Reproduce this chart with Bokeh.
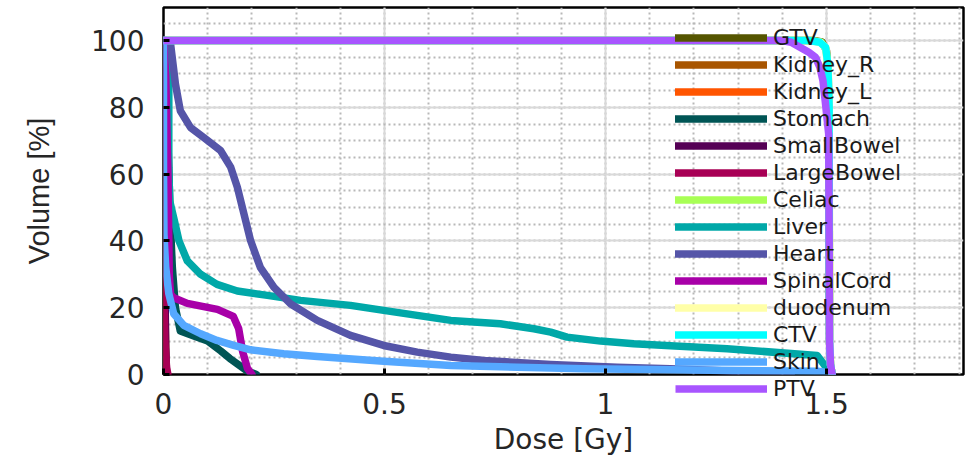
from bokeh.plotting import figure
from bokeh.models import Range1d, SingleIntervalTicker, Legend, LegendItem
from bokeh.embed import file_html
from bokeh.resources import INLINE

# ---- data ----
structures = ["GTV", "Kidney_R", "Kidney_L", "Stomach", "SmallBowel", "LargeBowel",
              "Celiac", "Liver", "Heart", "SpinalCord", "duodenum", "CTV", "Skin", "PTV"]
colors = ["#555500", "#A85500", "#FF5500", "#005555", "#550055", "#A80055",
          "#A8FF55", "#00A8A8", "#5555A8", "#A800A8", "#FFFFA8", "#00FFFF", "#55A8FF", "#A855FF"]

GTV_dose = [0, 1.47, 1.49, 1.5, 1.504, 1.506, 1.507, 1.509, 1.513]
GTV_vol = [100, 100, 99.6, 97, 90, 60, 10, 3, 0]
Kidney_R_dose = [0, 0.002, 0.004, 0.006]
Kidney_R_vol = [100, 55, 15, 0]
Kidney_L_dose = [0, 0.001, 0.003, 0.005]
Kidney_L_vol = [100, 45, 10, 0]
Stomach_dose = [0, 0.004, 0.01, 0.016, 0.02, 0.027, 0.038, 0.07, 0.1, 0.13, 0.15, 0.19, 0.21]
Stomach_vol = [100, 90, 70, 44, 32, 20, 13, 11.5, 10, 7, 4.8, 1, 0]
SmallBowel_dose = [0, 0.002, 0.005, 0.007]
SmallBowel_vol = [100, 40, 8, 0]
LargeBowel_dose = [0, 0.0, 0.003, 0.007, 0.01]
LargeBowel_vol = [100, 30, 10, 2, 0]
Celiac_dose = [0, 1.465, 1.488, 1.499, 1.504, 1.506, 1.507, 1.509, 1.513]
Celiac_vol = [100, 100, 99.5, 97.5, 91, 70, 20, 3, 0]
Liver_dose = [0, 0.004, 0.009, 0.012, 0.012, 0.014, 0.023, 0.035, 0.054, 0.084, 0.121, 0.167,
              0.235, 0.31, 0.423, 0.498, 0.574, 0.65, 0.762, 0.838, 0.876, 0.913, 0.989,
              1.064, 1.147, 1.275, 1.479, 1.5, 1.506]
Liver_vol = [100, 97, 92, 87, 62, 52, 47, 40, 34, 30, 27, 25,
             23.7, 22.2, 20.7, 19.2, 17.7, 16.2, 15.2, 13.7, 12.7, 11.2, 10,
             9.2, 8.6, 7.7, 5.7, 2, 0]
Heart_dose = [0, 0.006, 0.016, 0.027, 0.038, 0.061, 0.091, 0.129, 0.152, 0.167, 0.182, 0.197,
              0.219, 0.25, 0.287, 0.348, 0.423, 0.498, 0.574, 0.65, 0.725, 0.876, 1.026,
              1.147, 1.25, 1.35, 1.42]
Heart_vol = [100, 100, 99, 87, 79, 74, 71, 67.1, 62.1, 56.1, 48.1, 40.1,
             32.1, 26.1, 21.2, 16.2, 11.7, 8.7, 6.7, 5.2, 4.2, 3, 2.2,
             1.7, 1.2, 0.6, 0]
SpinalCord_dose = [0, 0.005, 0.01, 0.013, 0.016, 0.023, 0.054, 0.122, 0.158, 0.17, 0.179, 0.19, 0.2]
SpinalCord_vol = [100, 90, 60, 30, 24, 23, 21.3, 19.5, 17.4, 13.8, 6.9, 1.8, 0]
duodenum_dose = [0, 1.46, 1.486, 1.498, 1.503, 1.506, 1.507, 1.509, 1.513]
duodenum_vol = [100, 100, 99.5, 98, 92, 75, 30, 3, 0]
CTV_dose = [0, 1.46, 1.485, 1.498, 1.503, 1.506, 1.506, 1.507, 1.509, 1.513]
CTV_vol = [100, 100, 99.5, 98, 93, 80, 40, 10, 3, 0]
Skin_dose = [0, 0.0, 0.001, 0.005, 0.012, 0.023, 0.046, 0.084, 0.121, 0.159, 0.197, 0.272,
             0.348, 0.498, 0.65, 0.8, 0.951, 1.147, 1.3, 1.48, 1.505, 1.512]
Skin_vol = [100, 62, 42, 32.1, 24.2, 18.2, 14.7, 12.2, 10.2, 8.7, 7.4, 6.2,
            5.4, 4, 2.7, 2.2, 1.7, 1.4, 1.2, 1, 0.5, 0]
PTV_dose = [0, 1.40, 1.42, 1.44, 1.46, 1.475, 1.485, 1.492, 1.497, 1.505, 1.506, 1.507, 1.509, 1.513]
PTV_vol = [100, 100, 99.5, 98, 96.5, 95, 92, 88, 82, 72, 40, 10, 3, 0]

doses = [GTV_dose, Kidney_R_dose, Kidney_L_dose, Stomach_dose, SmallBowel_dose, LargeBowel_dose,
         Celiac_dose, Liver_dose, Heart_dose, SpinalCord_dose, duodenum_dose, CTV_dose, Skin_dose, PTV_dose]
vols = [GTV_vol, Kidney_R_vol, Kidney_L_vol, Stomach_vol, SmallBowel_vol, LargeBowel_vol,
        Celiac_vol, Liver_vol, Heart_vol, SpinalCord_vol, duodenum_vol, CTV_vol, Skin_vol, PTV_vol]

x_tick_values = [0, 0.5, 1, 1.5]
x_tick_labels = ["0", "0.5", "1", "1.5"]
y_tick_values = [0, 20, 40, 60, 80, 100]
y_tick_labels = ["0", "20", "40", "60", "80", "100"]
x_label = "Dose [Gy]"
y_label = "Volume [%]"

FONT = "DejaVu Sans"
LW = 7.5

p = figure(width=976, height=462, output_backend="svg", toolbar_location=None,
           x_range=Range1d(0, 1.81), y_range=Range1d(0, 109.9),
           min_border_left=163, min_border_right=13, min_border_top=7, min_border_bottom=88)
p.background_fill_color = "white"
p.outline_line_color = "black"
p.outline_line_width = 2.5

p.xaxis.ticker = SingleIntervalTicker(interval=0.5, num_minor_ticks=5)
p.yaxis.ticker = SingleIntervalTicker(interval=20, num_minor_ticks=4)
p.xaxis.major_label_overrides = {v: t for v, t in zip(x_tick_values, x_tick_labels)}
p.yaxis.major_label_overrides = {v: t for v, t in zip(y_tick_values, y_tick_labels)}
for ax in (p.xaxis[0], p.yaxis[0]):
    ax.axis_line_color = None
    ax.major_tick_in = 6
    ax.major_tick_out = 0
    ax.major_tick_line_width = 3
    ax.major_tick_line_color = "black"
    ax.minor_tick_line_color = None
    ax.major_label_text_font = FONT
    ax.major_label_text_font_size = "28px"
    ax.major_label_text_color = "#262626"
    ax.axis_label_text_font_size = "28px"
    ax.axis_label_text_font_style = "normal"
    ax.axis_label_text_color = "#262626"
p.xaxis.axis_label = x_label
p.yaxis.axis_label = y_label
p.xaxis.axis_label_text_font = FONT
p.yaxis.axis_label_text_font = "Liberation Sans"
p.yaxis.axis_label_text_font_size = "29px"
p.xaxis.major_label_standoff = 14
p.xaxis.axis_label_standoff = 6
p.yaxis.major_label_standoff = 15
p.yaxis.axis_label_standoff = 33

for g in (p.xgrid[0], p.ygrid[0]):
    g.grid_line_color = "#d9d9d9"
    g.grid_line_width = 2
    g.minor_grid_line_color = "#b8b8b8"
    g.minor_grid_line_width = 2
    g.minor_grid_line_dash = "2 3"

renderers = []
for name, col, d, v in zip(structures, colors, doses, vols):
    r = p.line(d, v, line_color=col, line_width=LW, line_join="round", line_cap="round")
    renderers.append(r)

legend_kw = dict(orientation="vertical", glyph_width=92, glyph_height=27, label_height=27,
                 label_standoff=6, spacing=0, padding=0, margin=0,
                 label_text_font=FONT, label_text_font_size="22px", label_text_color="#1a1a1a",
                 background_fill_alpha=0, border_line_color=None)

legend = Legend(items=[LegendItem(label=n, renderers=[r])
                       for n, r in zip(structures[:-1], renderers[:-1])],
                location=(512, -1), **legend_kw)
p.add_layout(legend)

# last legend entry hangs below the axes box (as in the reference): separate overlay
p2 = figure(width=200, height=27, output_backend="svg", toolbar_location=None,
            x_range=Range1d(10, 11), y_range=Range1d(200, 201),
            x_axis_type=None, y_axis_type=None, min_border=0)
p2.outline_line_color = None
p2.background_fill_alpha = 0
p2.border_fill_alpha = 0
p2.grid.visible = False
r_ptv = p2.line(PTV_dose, PTV_vol, line_color=colors[-1], line_width=LW)
legend2 = Legend(items=[LegendItem(label=structures[-1], renderers=[r_ptv])],
                 location=(0, 0), **legend_kw)
p2.add_layout(legend2)
p2.styles = {"position": "absolute", "left": "675px", "top": "375px"}

open("out.html", "w").write(file_html([p, p2], INLINE))
